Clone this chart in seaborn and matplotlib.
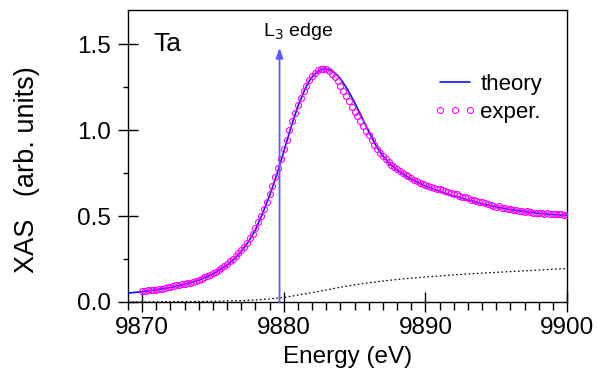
import matplotlib
matplotlib.use("Agg")
import matplotlib.pyplot as plt
from matplotlib.lines import Line2D
from matplotlib.legend_handler import HandlerLine2D
from matplotlib.ticker import MultipleLocator
import seaborn as sns
import pandas as pd

# ---- data -------------------------------------------------------------
theory_E = [9869.0, 9870.0, 9871.0, 9872.0, 9873.0, 9874.0, 9875.0, 9876.0,
            9876.5, 9877.0, 9877.5, 9878.0, 9878.5, 9879.0, 9879.5, 9880.0,
            9880.5, 9881.0, 9881.5, 9881.75, 9882.0, 9882.25, 9882.5, 9882.75,
            9883.0, 9883.25, 9883.5, 9883.75, 9884.0, 9884.5, 9885.0, 9885.5,
            9886.0, 9886.5, 9887.0, 9887.5, 9888.0, 9889.0, 9890.0, 9891.0,
            9892.0, 9893.0, 9894.0, 9895.0, 9896.0, 9897.0, 9898.0, 9899.0,
            9900.0]
theory_y = [0.052, 0.060, 0.070, 0.085, 0.103, 0.127, 0.163, 0.215,
            0.250, 0.295, 0.350, 0.420, 0.515, 0.620, 0.740, 0.875,
            1.015, 1.140, 1.240, 1.280, 1.310, 1.332, 1.348, 1.355,
            1.356, 1.351, 1.340, 1.323, 1.300, 1.238, 1.162, 1.078,
            0.992, 0.912, 0.850, 0.803, 0.768, 0.716, 0.676, 0.645,
            0.618, 0.595, 0.572, 0.553, 0.538, 0.526, 0.516, 0.509,
            0.504]

exper_E = [9870.0, 9870.2, 9870.4, 9870.6, 9870.8, 9871.0, 9871.2, 9871.4, 9871.6, 9871.8,
           9872.0, 9872.2, 9872.4, 9872.6, 9872.8, 9873.0, 9873.2, 9873.4, 9873.6, 9873.8,
           9874.0, 9874.2, 9874.4, 9874.6, 9874.8, 9875.0, 9875.2, 9875.4, 9875.6, 9875.8,
           9876.0, 9876.2, 9876.4, 9876.6, 9876.8, 9877.0, 9877.2, 9877.4, 9877.6, 9877.8,
           9878.0, 9878.2, 9878.4, 9878.6, 9878.8, 9879.0, 9879.2, 9879.4, 9879.6, 9879.8,
           9880.0, 9880.2, 9880.4, 9880.6, 9880.8, 9881.0, 9881.2, 9881.4, 9881.6, 9881.8,
           9882.0, 9882.2, 9882.4, 9882.6, 9882.8, 9883.0, 9883.2, 9883.4, 9883.6, 9883.8,
           9884.0, 9884.2, 9884.4, 9884.6, 9884.8, 9885.0, 9885.2, 9885.4, 9885.6, 9885.8,
           9886.0, 9886.2, 9886.4, 9886.6, 9886.8, 9887.0, 9887.2, 9887.4, 9887.6, 9887.8,
           9888.0, 9888.2, 9888.4, 9888.6, 9888.8, 9889.0, 9889.2, 9889.4, 9889.6, 9889.8,
           9890.0, 9890.2, 9890.4, 9890.6, 9890.8, 9891.0, 9891.2, 9891.4, 9891.6, 9891.8,
           9892.0, 9892.2, 9892.4, 9892.6, 9892.8, 9893.0, 9893.2, 9893.4, 9893.6, 9893.8,
           9894.0, 9894.2, 9894.4, 9894.6, 9894.8, 9895.0, 9895.2, 9895.4, 9895.6, 9895.8,
           9896.0, 9896.2, 9896.4, 9896.6, 9896.8, 9897.0, 9897.2, 9897.4, 9897.6, 9897.8,
           9898.0, 9898.2, 9898.4, 9898.6, 9898.8, 9899.0, 9899.2, 9899.4, 9899.6, 9899.8,
           9900.0]
exper_y = [0.065, 0.066, 0.068, 0.067, 0.070, 0.072, 0.074, 0.078, 0.080, 0.085,
           0.088, 0.091, 0.097, 0.100, 0.104, 0.107, 0.110, 0.112, 0.118, 0.124,
           0.130, 0.136, 0.143, 0.151, 0.158, 0.167, 0.176, 0.187, 0.199, 0.212,
           0.224, 0.236, 0.250, 0.266, 0.283, 0.302, 0.322, 0.345, 0.370, 0.398,
           0.430, 0.465, 0.502, 0.542, 0.585, 0.630, 0.678, 0.728, 0.780, 0.835,
           0.890, 0.945, 1.000, 1.052, 1.100, 1.146, 1.188, 1.226, 1.260, 1.290,
           1.314, 1.334, 1.348, 1.356, 1.358, 1.355, 1.345, 1.330, 1.310, 1.285,
           1.258, 1.228, 1.198, 1.168, 1.138, 1.108, 1.080, 1.052, 1.025, 0.998,
           0.972, 0.945, 0.915, 0.890, 0.868, 0.848, 0.830, 0.813, 0.799, 0.786,
           0.774, 0.763, 0.752, 0.742, 0.732, 0.722, 0.710, 0.702, 0.695, 0.689,
           0.682, 0.676, 0.670, 0.661, 0.658, 0.655, 0.652, 0.648, 0.641, 0.636,
           0.630, 0.626, 0.618, 0.614, 0.612, 0.606, 0.596, 0.593, 0.586, 0.583,
           0.580, 0.575, 0.571, 0.566, 0.560, 0.555, 0.556, 0.550, 0.545, 0.543,
           0.540, 0.536, 0.535, 0.530, 0.528, 0.526, 0.527, 0.523, 0.521, 0.520,
           0.518, 0.517, 0.515, 0.516, 0.514, 0.513, 0.512, 0.511, 0.510, 0.509,
           0.508]

bg_E = [9869.0, 9871.0, 9873.0, 9875.0, 9877.0, 9878.0, 9879.0, 9880.0, 9881.0,
        9882.0, 9883.0, 9884.0, 9885.0, 9886.0, 9887.0, 9888.0, 9890.0, 9892.0,
        9894.0, 9896.0, 9898.0, 9900.0]
bg_y = [0.000, 0.001, 0.002, 0.004, 0.008, 0.012, 0.018, 0.027, 0.040,
        0.055, 0.070, 0.086, 0.100, 0.112, 0.122, 0.131, 0.146, 0.158,
        0.168, 0.177, 0.186, 0.195]

edge_E = 9879.7
edge_top = 1.48
x_ticks = [9870, 9880, 9890, 9900]
y_ticks = [0.0, 0.5, 1.0, 1.5]

# ---- style ------------------------------------------------------------
sns.set_theme(style="ticks")
plt.rcParams['font.family'] = ['Liberation Sans', 'DejaVu Sans']
plt.rcParams['text.color'] = 'black'
plt.rcParams['axes.labelcolor'] = 'black'
plt.rcParams['xtick.color'] = 'black'
plt.rcParams['ytick.color'] = 'black'

fig = plt.figure(figsize=(5.97, 3.70), dpi=100)
ax = fig.add_axes([128/597, 1-302/370, (567-128)/597, (302-10)/370])

df_t = pd.DataFrame({"E": theory_E, "y": theory_y})
df_e = pd.DataFrame({"E": exper_E, "y": exper_y})
df_b = pd.DataFrame({"E": bg_E, "y": bg_y})

sns.lineplot(data=df_b, x="E", y="y", ax=ax, color="black", lw=0.9,
             linestyle=(0, (1.3, 2.0)), zorder=2)
sns.lineplot(data=df_t, x="E", y="y", ax=ax, color="#1010ff", lw=1.2, zorder=3)
sns.lineplot(data=df_e, x="E", y="y", ax=ax, linestyle="", marker="o",
             markersize=4.3, markerfacecolor="none", markeredgecolor="#ff00ff",
             markeredgewidth=0.8, color="#ff00ff", zorder=4)

ax.annotate("", xy=(edge_E, edge_top), xytext=(edge_E, 0.0),
            arrowprops=dict(arrowstyle="-|>,head_length=0.5,head_width=0.18",
                            color="#5a5aff", lw=1.3, shrinkA=0, shrinkB=0),
            zorder=5)
ax.text(9881.0, 1.55, r"L$_3$ edge", ha="center", va="baseline", fontsize=14)
ax.text(9870.8, 1.46, "Ta", ha="left", va="baseline", fontsize=19)

ax.set_xlim(9869, 9900)
ax.set_ylim(0, 1.7)
ax.set_xticks(x_ticks)
ax.set_yticks(y_ticks)
ax.set_xticklabels([str(v) for v in x_ticks])
ax.set_yticklabels([f"{v:.1f}" for v in y_ticks])
ax.xaxis.set_minor_locator(MultipleLocator(1))
ax.yaxis.set_minor_locator(MultipleLocator(0.25))

ax.tick_params(axis="both", which="major", direction="inout", length=15,
               width=1.0, labelsize=17.5, color="black", labelcolor="black")
ax.tick_params(axis="x", which="major", pad=3)
ax.tick_params(axis="y", which="major", pad=5)
ax.tick_params(axis="x", which="minor", direction="out", length=5.5, width=1.0)
ax.tick_params(axis="y", which="minor", direction="out", length=3.8, width=1.0)

for s in ax.spines.values():
    s.set_visible(True)
    s.set_color("black")
    s.set_linewidth(1.0)

ax.set_xlabel("Energy (eV)", fontsize=17.5, labelpad=5)
ax.set_ylabel("XAS   (arb. units)", fontsize=19.5)
ax.yaxis.set_label_coords(-0.2, 0.455)

handles = [Line2D([], [], color="#1010ff", lw=1.2),
           Line2D([], [], linestyle="", marker="o", markersize=4.3,
                  markerfacecolor="none", markeredgecolor="#ff00ff",
                  markeredgewidth=0.8)]
ax.legend(handles, ["theory", "exper."], loc="center left",
          bbox_to_anchor=(0.711, 0.698), frameon=False, fontsize=16,
          numpoints=3, handlelength=1.35, handletextpad=0.45,
          labelspacing=0.3, borderpad=0, borderaxespad=0,
          handler_map={Line2D: HandlerLine2D(marker_pad=0.0, numpoints=3)})

fig.savefig("out.png", dpi=100)
